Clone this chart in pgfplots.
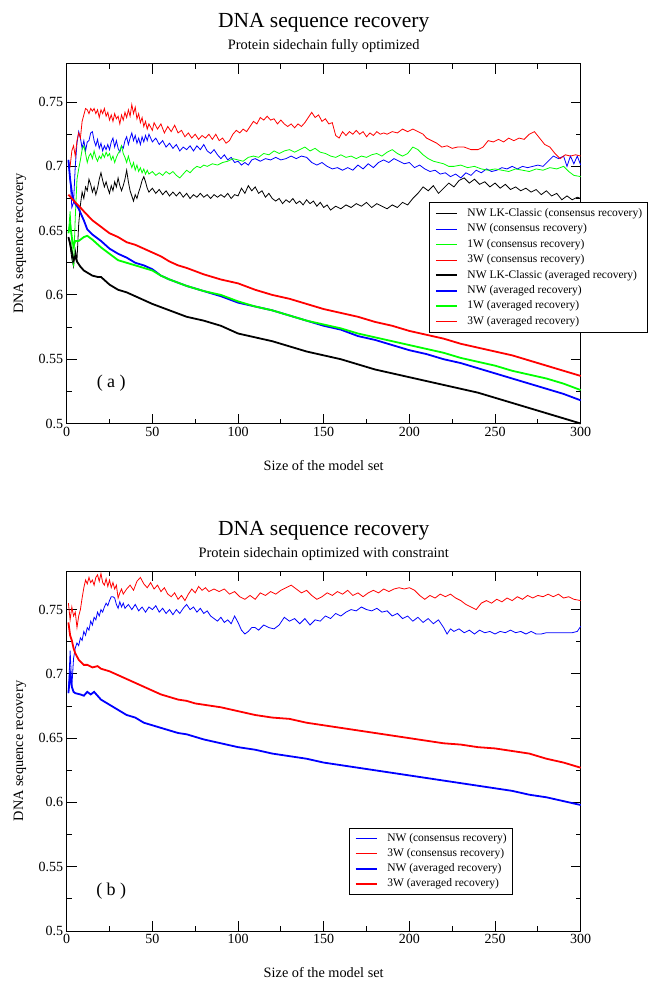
\documentclass[border=0pt]{standalone}
\usepackage{fontspec}
\setmainfont{Liberation Serif}
\usepackage{pgfplots}
\pgfplotsset{compat=1.18}
\definecolor{xgreen}{RGB}{0,255,0}
\definecolor{xred}{RGB}{255,0,0}
\definecolor{xblue}{RGB}{0,0,255}
\pgfplotsset{
  grace/.style={
    scale only axis, width=514pt, height=360pt,
    xmin=0, xmax=300, ymin=0.5, ymax=0.78,
    xtick={0,50,...,300}, minor x tick num=1,
    ytick={0.5,0.55,0.6,0.65,0.7,0.75},
    yticklabels={0.5,0.55,0.6,0.65,0.7,0.75},
    minor y tick num=1,
    tick align=inside, major tick length=10pt, minor tick length=5pt,
    every tick/.style={black, line width=0.9pt},
    axis line style={line width=0.9pt},
    /pgf/number format/assume math mode=true,
    ticklabel style={font=\fontsize{14}{16}\selectfont},
    label style={font=\fontsize{14.3}{16}\selectfont},
    xlabel={Size of the model set},
    ylabel={DNA sequence recovery},
    xlabel style={at={(axis description cs:0.5,-0.1167)}, anchor=center},
    ylabel style={at={(axis description cs:-0.0909,0.5)}, anchor=center},
    clip=false,
    legend cell align=left,
    legend image code/.code={\draw[##1] (0pt,0pt) -- (21pt,0pt);},
  },
  cons/.style={line width=0.8pt, color=#1},
  avg/.style={line width=1.8pt, color=#1},
}
\begin{document}
\begin{tikzpicture}
\path[use as bounding box] (0,0) rectangle (661pt,-992pt);
% ---------------- (a) ----------------
\begin{axis}[grace, at={(66.7pt,-423.5pt)}, anchor=south west,
  legend style={at={(0.705,0.6144)}, anchor=north west,
    font=\fontsize{11.5}{13}\selectfont, draw=black, line width=0.8pt,
    inner xsep=5.5pt, inner ysep=5.8pt, row sep=4.9pt, column sep=9.7pt,
    nodes={inner sep=0pt, text height=8pt, text depth=2.5pt}}]
\addplot[cons=black] coordinates {(1,0.645)(2,0.638)(3,0.628)(4,0.622)(5,0.635)(6,0.627)(7,0.655)(8,0.67)(9,0.68)(10,0.675)(11,0.684)(12,0.681)(13,0.69)(14,0.686)(15,0.68)(16,0.684)(17,0.678)(18,0.683)(19,0.69)(20,0.695)(21,0.689)(22,0.684)(23,0.688)(24,0.683)(25,0.679)(26,0.685)(27,0.681)(28,0.688)(29,0.684)(30,0.691)(31,0.685)(32,0.681)(33,0.685)(34,0.69)(35,0.697)(36,0.688)(37,0.681)(38,0.677)(39,0.673)(40,0.678)(41,0.675)(42,0.68)(43,0.684)(44,0.689)(45,0.692)(46,0.688)(47,0.683)(48,0.68)(50,0.683)(52,0.679)(54,0.682)(56,0.678)(58,0.681)(60,0.677)(62,0.68)(64,0.677)(66,0.68)(68,0.676)(70,0.679)(72,0.675)(74,0.678)(76,0.676)(78,0.679)(80,0.676)(82,0.678)(84,0.675)(86,0.678)(88,0.676)(90,0.678)(92,0.676)(94,0.679)(96,0.675)(98,0.678)(100,0.677)(102,0.683)(104,0.679)(106,0.685)(108,0.681)(110,0.684)(112,0.679)(114,0.681)(116,0.676)(118,0.679)(120,0.675)(122,0.673)(124,0.675)(126,0.671)(128,0.674)(130,0.672)(132,0.675)(134,0.671)(136,0.673)(138,0.67)(140,0.674)(142,0.671)(144,0.673)(146,0.669)(148,0.672)(150,0.668)(152,0.67)(154,0.666)(157,0.669)(160,0.667)(163,0.67)(166,0.668)(169,0.671)(172,0.669)(175,0.672)(178,0.668)(181,0.671)(184,0.669)(187,0.667)(190,0.67)(193,0.668)(196,0.672)(199,0.67)(202,0.675)(205,0.679)(208,0.684)(211,0.681)(214,0.685)(217,0.679)(220,0.683)(223,0.687)(226,0.684)(229,0.689)(232,0.691)(235,0.687)(238,0.69)(241,0.686)(244,0.688)(247,0.684)(250,0.687)(253,0.683)(256,0.686)(259,0.682)(262,0.684)(265,0.681)(268,0.683)(271,0.68)(274,0.682)(277,0.678)(280,0.681)(283,0.677)(286,0.679)(289,0.674)(292,0.677)(295,0.674)(298,0.676)(300,0.675)};
\addlegendentry{NW LK-Classic (consensus recovery)}
\addplot[cons=xblue] coordinates {(1,0.705)(2,0.69)(3,0.668)(4,0.672)(5,0.70)(6,0.718)(7,0.727)(8,0.722)(9,0.714)(10,0.72)(11,0.712)(12,0.719)(13,0.72)(14,0.726)(15,0.727)(16,0.72)(17,0.716)(18,0.721)(19,0.714)(20,0.718)(21,0.712)(22,0.716)(23,0.713)(24,0.717)(25,0.713)(26,0.719)(27,0.722)(28,0.715)(29,0.72)(30,0.714)(31,0.711)(32,0.716)(33,0.714)(34,0.72)(35,0.723)(36,0.717)(37,0.722)(38,0.726)(39,0.72)(40,0.724)(41,0.718)(42,0.722)(43,0.717)(44,0.723)(45,0.719)(46,0.724)(47,0.72)(48,0.725)(50,0.719)(52,0.722)(54,0.717)(56,0.72)(58,0.715)(60,0.718)(62,0.714)(64,0.717)(66,0.712)(68,0.715)(70,0.713)(72,0.716)(74,0.712)(76,0.716)(78,0.713)(80,0.717)(82,0.712)(84,0.71)(86,0.713)(88,0.709)(90,0.706)(92,0.709)(94,0.705)(96,0.707)(98,0.703)(100,0.704)(102,0.701)(104,0.703)(106,0.701)(108,0.705)(110,0.706)(113,0.704)(116,0.706)(119,0.705)(122,0.707)(125,0.705)(128,0.706)(131,0.708)(134,0.706)(137,0.708)(140,0.707)(143,0.703)(146,0.701)(149,0.703)(152,0.7)(155,0.698)(158,0.699)(161,0.697)(164,0.699)(167,0.697)(170,0.701)(173,0.698)(176,0.702)(179,0.699)(182,0.703)(185,0.705)(188,0.703)(191,0.706)(194,0.704)(197,0.702)(200,0.703)(203,0.699)(206,0.701)(209,0.698)(212,0.696)(215,0.697)(218,0.694)(221,0.695)(224,0.692)(227,0.694)(230,0.691)(233,0.695)(236,0.693)(239,0.697)(242,0.695)(245,0.698)(248,0.696)(251,0.697)(254,0.699)(257,0.698)(260,0.7)(263,0.698)(266,0.7)(269,0.699)(272,0.7)(275,0.701)(278,0.7)(281,0.704)(284,0.708)(287,0.706)(290,0.708)(292,0.7)(294,0.708)(296,0.702)(298,0.708)(300,0.701)};
\addlegendentry{NW (consensus recovery)}
\addplot[cons=xgreen] coordinates {(1,0.648)(2,0.665)(3,0.64)(4,0.622)(5,0.66)(6,0.69)(7,0.698)(8,0.705)(9,0.713)(10,0.716)(11,0.71)(12,0.703)(13,0.708)(14,0.71)(15,0.706)(16,0.712)(17,0.707)(18,0.704)(19,0.708)(20,0.706)(21,0.71)(22,0.707)(23,0.711)(24,0.708)(25,0.71)(26,0.705)(27,0.708)(28,0.703)(29,0.707)(30,0.71)(31,0.712)(32,0.716)(33,0.71)(34,0.707)(35,0.703)(36,0.708)(37,0.703)(38,0.699)(39,0.703)(40,0.697)(41,0.701)(42,0.696)(43,0.699)(44,0.695)(45,0.698)(46,0.694)(47,0.697)(48,0.694)(50,0.696)(52,0.693)(54,0.695)(56,0.693)(58,0.696)(60,0.694)(62,0.696)(64,0.693)(66,0.691)(68,0.694)(70,0.697)(72,0.695)(74,0.698)(76,0.7)(78,0.699)(80,0.701)(82,0.7)(85,0.702)(88,0.701)(91,0.703)(94,0.704)(97,0.706)(100,0.705)(103,0.704)(106,0.707)(109,0.708)(112,0.707)(115,0.71)(118,0.709)(121,0.712)(124,0.71)(127,0.712)(130,0.713)(133,0.711)(136,0.713)(139,0.715)(142,0.712)(145,0.714)(148,0.711)(151,0.71)(154,0.708)(157,0.707)(160,0.709)(163,0.707)(166,0.708)(169,0.706)(172,0.708)(175,0.707)(178,0.709)(181,0.71)(184,0.708)(187,0.711)(190,0.713)(193,0.71)(196,0.708)(199,0.71)(202,0.715)(205,0.713)(208,0.709)(211,0.706)(214,0.704)(217,0.703)(220,0.702)(223,0.7)(226,0.7)(230,0.701)(234,0.699)(238,0.7)(242,0.698)(246,0.697)(250,0.698)(254,0.697)(258,0.696)(262,0.698)(266,0.697)(270,0.696)(274,0.698)(278,0.697)(282,0.699)(286,0.698)(290,0.7)(293,0.696)(296,0.693)(300,0.692)};
\addlegendentry{1W (consensus recovery)}
\addplot[cons=xred] coordinates {(1,0.703)(2,0.70)(3,0.712)(4,0.716)(5,0.708)(6,0.72)(7,0.726)(8,0.722)(9,0.735)(10,0.74)(11,0.745)(12,0.744)(13,0.741)(14,0.745)(15,0.743)(16,0.745)(17,0.741)(18,0.744)(19,0.738)(20,0.744)(21,0.741)(22,0.745)(23,0.739)(24,0.742)(25,0.736)(26,0.74)(27,0.735)(28,0.741)(29,0.737)(30,0.739)(31,0.733)(32,0.74)(33,0.736)(34,0.742)(35,0.738)(36,0.744)(37,0.739)(38,0.748)(39,0.741)(40,0.746)(41,0.737)(42,0.741)(43,0.734)(44,0.738)(45,0.731)(46,0.735)(47,0.729)(48,0.733)(50,0.728)(51,0.734)(53,0.729)(55,0.733)(57,0.726)(59,0.731)(61,0.727)(63,0.732)(65,0.726)(67,0.728)(69,0.723)(71,0.726)(73,0.722)(75,0.725)(77,0.721)(79,0.724)(81,0.722)(83,0.725)(85,0.721)(87,0.725)(89,0.72)(91,0.722)(93,0.718)(95,0.72)(97,0.725)(99,0.728)(101,0.726)(103,0.729)(105,0.727)(107,0.731)(109,0.735)(111,0.733)(113,0.738)(115,0.736)(117,0.739)(119,0.736)(121,0.737)(123,0.733)(125,0.736)(127,0.733)(129,0.731)(131,0.733)(133,0.730)(135,0.733)(137,0.731)(139,0.734)(141,0.738)(143,0.742)(145,0.738)(147,0.74)(149,0.735)(151,0.737)(153,0.733)(155,0.734)(157,0.724)(159,0.722)(161,0.727)(163,0.724)(165,0.727)(167,0.725)(169,0.728)(171,0.725)(173,0.727)(175,0.723)(177,0.726)(179,0.724)(181,0.727)(183,0.725)(185,0.726)(187,0.725)(190,0.727)(193,0.726)(196,0.729)(199,0.727)(202,0.729)(205,0.727)(208,0.725)(210,0.722)(213,0.72)(216,0.718)(219,0.715)(222,0.716)(225,0.714)(228,0.715)(232,0.715)(236,0.713)(240,0.713)(243,0.715)(246,0.72)(249,0.719)(252,0.721)(255,0.719)(258,0.722)(261,0.72)(264,0.722)(267,0.721)(270,0.725)(273,0.727)(276,0.722)(279,0.717)(282,0.715)(285,0.71)(288,0.706)(291,0.709)(294,0.708)(297,0.709)(300,0.708)};
\addlegendentry{3W (consensus recovery)}
\addplot[avg=black] coordinates {(1,0.645)(2,0.64)(3,0.633)(4,0.627)(5,0.63)(6,0.626)(8,0.622)(10,0.619)(15,0.615)(18,0.614)(20,0.614)(25,0.608)(30,0.604)(35,0.602)(40,0.599)(45,0.596)(50,0.593)(60,0.588)(70,0.583)(80,0.58)(90,0.576)(100,0.57)(110,0.567)(120,0.564)(130,0.56)(140,0.556)(150,0.553)(160,0.55)(170,0.546)(180,0.542)(190,0.539)(200,0.536)(210,0.533)(220,0.53)(230,0.527)(240,0.524)(250,0.52)(260,0.516)(270,0.512)(280,0.508)(290,0.504)(300,0.5)};
\addlegendentry{NW LK-Classic (averaged recovery)}
\addplot[avg=xblue] coordinates {(1,0.705)(2,0.69)(3,0.68)(4,0.674)(5,0.671)(7,0.667)(10,0.658)(12,0.651)(15,0.647)(20,0.642)(25,0.636)(30,0.632)(35,0.629)(40,0.625)(45,0.623)(50,0.62)(55,0.615)(60,0.612)(70,0.607)(80,0.603)(90,0.599)(100,0.594)(110,0.591)(120,0.588)(130,0.584)(140,0.58)(150,0.576)(160,0.573)(170,0.568)(180,0.565)(190,0.561)(200,0.557)(210,0.554)(220,0.55)(230,0.547)(240,0.543)(250,0.539)(260,0.535)(270,0.531)(280,0.527)(290,0.523)(300,0.518)};
\addlegendentry{NW (averaged recovery)}
\addplot[avg=xgreen] coordinates {(1,0.648)(2,0.655)(3,0.645)(4,0.638)(5,0.642)(7,0.642)(10,0.645)(12,0.646)(15,0.643)(20,0.637)(25,0.632)(30,0.627)(35,0.625)(40,0.623)(45,0.621)(50,0.619)(55,0.615)(60,0.612)(70,0.607)(80,0.603)(90,0.6)(100,0.595)(110,0.591)(120,0.588)(130,0.584)(140,0.58)(150,0.577)(160,0.574)(170,0.57)(180,0.567)(190,0.564)(200,0.561)(210,0.558)(220,0.555)(230,0.551)(240,0.548)(250,0.545)(260,0.541)(270,0.538)(280,0.535)(290,0.531)(300,0.526)};
\addlegendentry{1W (averaged recovery)}
\addplot[avg=xred] coordinates {(1,0.678)(3,0.675)(5,0.672)(8,0.668)(10,0.665)(15,0.658)(20,0.653)(25,0.648)(30,0.645)(35,0.641)(40,0.639)(45,0.636)(50,0.633)(55,0.63)(60,0.626)(65,0.623)(70,0.621)(80,0.616)(90,0.612)(100,0.609)(110,0.604)(120,0.6)(130,0.597)(140,0.593)(150,0.589)(160,0.586)(170,0.583)(180,0.579)(190,0.576)(200,0.572)(210,0.569)(220,0.566)(230,0.562)(240,0.559)(250,0.556)(260,0.553)(270,0.549)(280,0.545)(290,0.541)(300,0.537)};
\addlegendentry{3W (averaged recovery)}
\node[font=\fontsize{18}{20}\selectfont] at (axis cs:26,0.5315) {( a )};
\node[anchor=base, yshift=36pt, font=\fontsize{21.5}{24}\selectfont] at (rel axis cs:0.5,1) {DNA sequence recovery};
\node[anchor=base, yshift=13.6pt, font=\fontsize{14.4}{16}\selectfont] at (rel axis cs:0.5,1) {Protein sidechain fully optimized};
\end{axis}
% ---------------- (b) ----------------
\begin{axis}[grace, at={(66.7pt,-931pt)}, anchor=south west,
  legend style={at={(0.549,0.287)}, anchor=north west,
    font=\fontsize{11.5}{13}\selectfont, draw=black, line width=0.8pt,
    inner xsep=5.5pt, inner ysep=5.5pt, row sep=4.5pt, column sep=9.7pt,
    nodes={inner sep=0pt, text height=8pt, text depth=2.5pt}}]
\addplot[cons=xblue] coordinates {(1,0.685)(2,0.718)(3,0.69)(4,0.712)(5,0.72)(6,0.724)(7,0.722)(8,0.728)(9,0.726)(10,0.733)(11,0.73)(12,0.736)(13,0.734)(14,0.741)(15,0.738)(16,0.744)(17,0.742)(18,0.748)(19,0.745)(20,0.75)(21,0.748)(22,0.752)(23,0.755)(24,0.753)(25,0.757)(26,0.76)(27,0.76)(28,0.759)(29,0.754)(30,0.751)(31,0.756)(32,0.752)(33,0.755)(34,0.751)(36,0.754)(38,0.75)(40,0.754)(42,0.749)(44,0.752)(46,0.748)(48,0.752)(50,0.75)(52,0.753)(54,0.748)(56,0.751)(58,0.747)(60,0.75)(62,0.746)(64,0.75)(66,0.747)(68,0.751)(70,0.754)(72,0.75)(74,0.752)(76,0.748)(78,0.751)(80,0.747)(82,0.749)(84,0.745)(86,0.743)(88,0.741)(90,0.744)(92,0.74)(94,0.742)(96,0.739)(98,0.745)(100,0.74)(102,0.734)(104,0.731)(106,0.733)(108,0.736)(110,0.736)(112,0.734)(115,0.738)(118,0.736)(121,0.735)(124,0.738)(127,0.744)(130,0.741)(133,0.743)(136,0.739)(139,0.743)(142,0.738)(145,0.742)(148,0.741)(151,0.745)(154,0.743)(157,0.747)(160,0.745)(163,0.748)(166,0.75)(169,0.749)(172,0.752)(175,0.75)(178,0.749)(181,0.751)(184,0.748)(187,0.749)(190,0.745)(193,0.747)(196,0.743)(199,0.745)(202,0.741)(205,0.744)(208,0.74)(211,0.743)(214,0.739)(217,0.742)(220,0.736)(222,0.731)(224,0.735)(226,0.733)(229,0.735)(232,0.732)(235,0.734)(238,0.731)(241,0.734)(244,0.732)(247,0.733)(250,0.731)(253,0.733)(256,0.732)(259,0.734)(262,0.732)(265,0.733)(268,0.731)(271,0.733)(274,0.731)(277,0.731)(280,0.732)(285,0.732)(290,0.732)(295,0.732)(298,0.733)(300,0.737)};
\addlegendentry{NW (consensus recovery)}
\addplot[cons=xred] coordinates {(1,0.755)(2,0.742)(3,0.752)(4,0.745)(5,0.748)(6,0.736)(7,0.745)(8,0.75)(9,0.759)(10,0.767)(11,0.773)(12,0.77)(13,0.775)(14,0.771)(15,0.773)(16,0.769)(17,0.775)(18,0.777)(19,0.772)(20,0.778)(21,0.771)(22,0.769)(23,0.774)(24,0.768)(25,0.773)(26,0.767)(27,0.771)(28,0.766)(29,0.769)(30,0.759)(31,0.763)(32,0.766)(33,0.762)(35,0.766)(37,0.769)(39,0.765)(41,0.772)(43,0.775)(45,0.77)(47,0.767)(49,0.771)(51,0.766)(53,0.769)(55,0.764)(57,0.767)(59,0.762)(61,0.76)(63,0.763)(65,0.758)(67,0.761)(69,0.757)(71,0.762)(73,0.766)(75,0.763)(77,0.768)(79,0.765)(81,0.767)(83,0.764)(86,0.766)(89,0.764)(92,0.766)(95,0.762)(98,0.764)(101,0.76)(104,0.758)(107,0.761)(110,0.758)(113,0.763)(116,0.761)(119,0.764)(122,0.762)(125,0.765)(128,0.767)(131,0.769)(134,0.766)(137,0.763)(140,0.765)(143,0.761)(146,0.758)(149,0.76)(152,0.763)(155,0.761)(158,0.764)(161,0.762)(164,0.765)(167,0.761)(170,0.763)(173,0.76)(176,0.763)(179,0.765)(182,0.763)(185,0.766)(188,0.764)(191,0.766)(194,0.767)(197,0.766)(200,0.767)(203,0.765)(206,0.761)(209,0.758)(212,0.761)(215,0.759)(218,0.762)(221,0.76)(224,0.762)(227,0.759)(230,0.757)(233,0.754)(236,0.752)(239,0.75)(242,0.755)(245,0.757)(248,0.755)(251,0.758)(254,0.756)(257,0.759)(260,0.757)(263,0.76)(266,0.758)(269,0.761)(272,0.759)(275,0.761)(278,0.76)(281,0.762)(284,0.76)(287,0.762)(290,0.759)(293,0.76)(296,0.758)(300,0.757)};
\addlegendentry{3W (consensus recovery)}
\addplot[avg=xblue] coordinates {(1,0.685)(2,0.7)(3,0.69)(4,0.686)(5,0.685)(8,0.684)(10,0.683)(12,0.686)(14,0.684)(16,0.686)(18,0.683)(20,0.68)(25,0.676)(30,0.672)(35,0.668)(40,0.666)(45,0.662)(50,0.66)(55,0.658)(60,0.656)(65,0.654)(70,0.653)(75,0.651)(80,0.649)(90,0.646)(100,0.643)(110,0.641)(120,0.638)(130,0.636)(140,0.634)(150,0.631)(160,0.629)(170,0.627)(180,0.625)(190,0.623)(200,0.621)(210,0.619)(220,0.617)(230,0.615)(240,0.613)(250,0.611)(260,0.609)(270,0.606)(280,0.604)(290,0.601)(300,0.598)};
\addlegendentry{NW (averaged recovery)}
\addplot[avg=xred] coordinates {(1,0.74)(2,0.73)(3,0.726)(4,0.72)(5,0.716)(7,0.711)(10,0.707)(12,0.707)(15,0.705)(18,0.706)(20,0.704)(25,0.702)(30,0.699)(35,0.696)(40,0.693)(45,0.69)(50,0.687)(55,0.684)(60,0.682)(65,0.68)(70,0.679)(75,0.677)(80,0.676)(90,0.674)(100,0.671)(110,0.668)(120,0.666)(130,0.665)(140,0.662)(150,0.66)(160,0.658)(170,0.656)(180,0.654)(190,0.652)(200,0.65)(210,0.648)(220,0.646)(230,0.645)(240,0.643)(250,0.642)(260,0.64)(270,0.638)(280,0.634)(290,0.631)(300,0.627)};
\addlegendentry{3W (averaged recovery)}
\node[font=\fontsize{18}{20}\selectfont] at (axis cs:26,0.5313) {( b )};
\node[anchor=base, yshift=36pt, font=\fontsize{21.5}{24}\selectfont] at (rel axis cs:0.5,1) {DNA sequence recovery};
\node[anchor=base, yshift=13.6pt, font=\fontsize{14.4}{16}\selectfont] at (rel axis cs:0.5,1) {Protein sidechain optimized with constraint};
\end{axis}
\end{tikzpicture}
\end{document}
